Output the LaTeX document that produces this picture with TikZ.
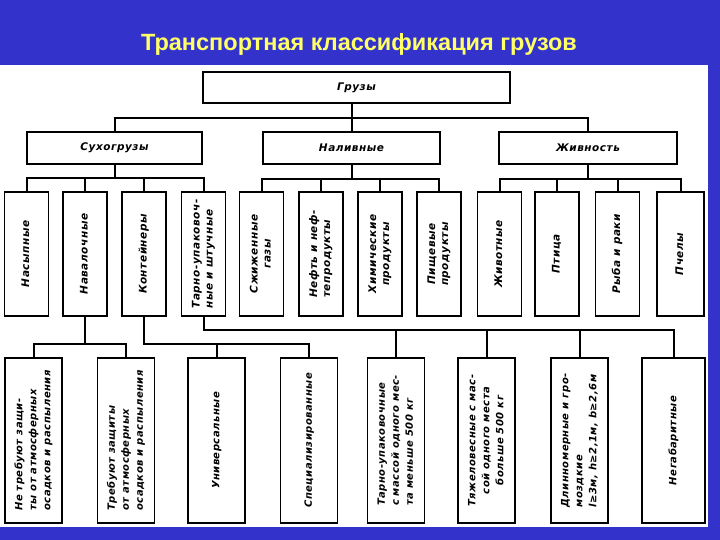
\documentclass[tikz,border=0pt]{standalone}
\usepackage{fontspec}
\usepackage{graphicx}
\setmainfont{Liberation Sans}
\newfontfamily\gost{DejaVu Sans}[LetterSpace=5,
  ItalicFont={DejaVu Sans Oblique}, BoldItalicFont={DejaVu Sans Bold Oblique}]
\definecolor{slideblue}{RGB}{51,51,204}
\definecolor{titleyellow}{RGB}{255,255,102}
% rotated box text, read from bottom to top
\newcommand{\vtext}[1]{\rotatebox{90}{\begin{tabular}{@{}c@{}}#1\end{tabular}}}
\newcommand{\vtextl}[1]{\rotatebox{90}{\begin{tabular}{@{}l@{}}#1\end{tabular}}}

\begin{document}
\begin{tikzpicture}[x=1pt, y=-1pt,
    box/.style={draw, rectangle, line width=1.4pt, inner sep=1pt,
      font=\gost\bfseries\itshape\fontsize{10.5}{13}\selectfont},
    headbox/.style={box, minimum height=32pt},
    kindbox/.style={box, minimum width=44pt, minimum height=124pt},
    subbox/.style={box, minimum width=57pt, minimum height=165pt,
      font=\gost\bfseries\itshape\fontsize{10}{14}\selectfont},
    conn/.style={draw, line width=2pt}]
    \fill[slideblue] (0,0) rectangle (720,540);
    \fill[white] (0,65) rectangle (708,527);
    \node[font=\bfseries\fontsize{23.5}{28}\selectfont, text=titleyellow] (title) at (359,44) {Транспортная классификация грузов};
    % top levels
    \node[box, minimum width=307pt, minimum height=31pt] (gruz) at (356.5,87.5) {Грузы};
    \node[headbox, minimum width=175pt] (suh) at (114.5,148) {Сухогрузы};
    \node[headbox, minimum width=177pt] (nal) at (351.5,148) {Наливные};
    \node[headbox, minimum width=178pt] (ziv) at (588,148) {Живность};
    % kinds of cargo
    \node[kindbox] (nas) at (26.5,254) {\vtext{Насыпные}};
    \node[kindbox] (nav) at (85,254) {\vtext{Навалочные}};
    \node[kindbox] (kont) at (144,254) {\vtext{Контейнеры}};
    \node[kindbox] (tarn) at (203.5,254) {\vtextl{Тарно-упаковоч-\\ные и штучные}};
    \node[kindbox] (szh) at (261.5,254) {\vtext{Сжиженные\\газы}};
    \node[kindbox] (neft) at (321,254) {\vtextl{Нефть и неф-\\тепродукты}};
    \node[kindbox] (him) at (380,254) {\vtext{Химические\\продукты}};
    \node[kindbox] (pish) at (439,254) {\vtext{Пищевые\\продукты}};
    \node[kindbox] (zhiv) at (499.5,254) {\vtext{Животные}};
    \node[kindbox] (ptic) at (557,254) {\vtext{Птица}};
    \node[kindbox] (ryba) at (617.5,254) {\vtext{Рыба и раки}};
    \node[kindbox, minimum width=47pt] (pchel) at (680.5,254) {\vtext{Пчелы}};
    % lower level
    \node[subbox] (nezash) at (33.5,440.5) {\vtextl{Не требуют защи-\\ты от атмосферных\\осадков и распыления}};
    \node[subbox] (zash) at (126,440.5) {\vtextl{Требуют защиты\\от атмосферных\\осадков и распыления}};
    \node[subbox] (univ) at (216.5,440.5) {\vtext{Универсальные}};
    \node[subbox] (spec) at (309,440.5) {\vtext{Специализированные}};
    \node[subbox] (tarm) at (396,440.5) {\vtextl{Тарно-упаковочные\\с массой одного мес-\\та меньше 500 кг}};
    \node[subbox] (tyazh) at (486.5,440.5) {\vtext{Тяжеловесные с мас-\\сой одного места\\больше 500 кг}};
    \node[subbox] (dlin) at (579.5,440.5) {\vtextl{Длинномерные и гро-\\моздкие\\l≥3м, h≥2,1м, b≥2,6м}};
    \node[subbox, minimum width=63pt] (negab) at (673.5,440.5) {\vtext{Негабаритные}};
    % connectors
    \draw[conn] (gruz.south -| nal.north) -- (nal.north);
    \draw[conn] (gruz.south -| nal.north) -- ++(0,14) -| (suh.north);
    \draw[conn] (gruz.south -| nal.north) -- ++(0,14) -| (ziv.north);
    \foreach \k in {nas,nav,kont,tarn}
      \draw[conn] (suh.south) -- ++(0,13) -| (\k.north);
    \foreach \k in {szh,neft,him,pish}
      \draw[conn] (nal.south) -- ++(0,14) -| (\k.north);
    \foreach \k in {zhiv,ptic,ryba,pchel}
      \draw[conn] (ziv.south) -- ++(0,14) -| (\k.north);
    \foreach \k in {nezash,zash}
      \draw[conn] (nav.south) -- ++(0,27) -| (\k.north);
    \foreach \k in {univ,spec}
      \draw[conn] (kont.south) -- ++(0,27) -| (\k.north);
    \foreach \k in {tarm,tyazh,dlin,negab}
      \draw[conn] (tarn.south) -- ++(0,13) -| (\k.north);
\end{tikzpicture}
\end{document}
